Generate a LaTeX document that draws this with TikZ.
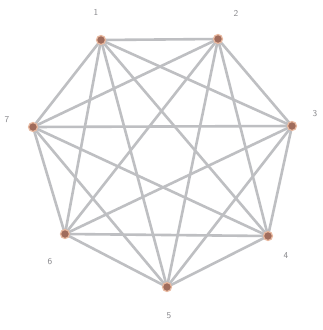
\documentclass[tikz,border=0pt]{standalone}
\usetikzlibrary{backgrounds}
\begin{document}
\begin{tikzpicture}[x=1pt,y=-1pt,
  vtx/.style={circle,fill=vcol,draw=vring,line width=1.2pt,inner sep=0pt,minimum size=9pt},
  edge/.style={draw=ecol,line width=2.6pt},
  lbl/.style={text=lcol,font=\small\sffamily,inner sep=1pt}]
\definecolor{vcol}{HTML}{A06C5C}
\definecolor{vring}{HTML}{E8B9A0}
\definecolor{ecol}{HTML}{BEBFC2}
\definecolor{lcol}{HTML}{8A8A8E}
\useasboundingbox (0,0) rectangle (323,330);
\node[vtx] (a) at (101,40) {};
\node[vtx] (b) at (218,39) {};
\node[vtx] (c) at (292,126) {};
\node[vtx] (d) at (268,236) {};
\node[vtx] (e) at (167,287) {};
\node[vtx] (f) at (65,234) {};
\node[vtx] (g) at (33,127) {};
\begin{scope}[on background layer]
\fill[white] (0,0) rectangle (323,330);
\foreach \u/\v in {a/b,a/c,a/d,a/e,a/f,a/g,b/c,b/d,b/e,b/f,b/g,c/d,c/e,c/f,c/g,d/e,d/f,d/g,e/f,e/g,f/g}
  \draw[edge] (\u.center) -- (\v.center);
\end{scope}
\node[lbl] (la) at (96,12) {1};
\node[lbl] (lb) at (236,13) {2};
\node[lbl] (lc) at (315,114) {3};
\node[lbl] (ld) at (286,256) {4};
\node[lbl] (le) at (169,316) {5};
\node[lbl] (lf) at (50,262) {6};
\node[lbl] (lg) at (7,120) {7};
\end{tikzpicture}
\end{document}
